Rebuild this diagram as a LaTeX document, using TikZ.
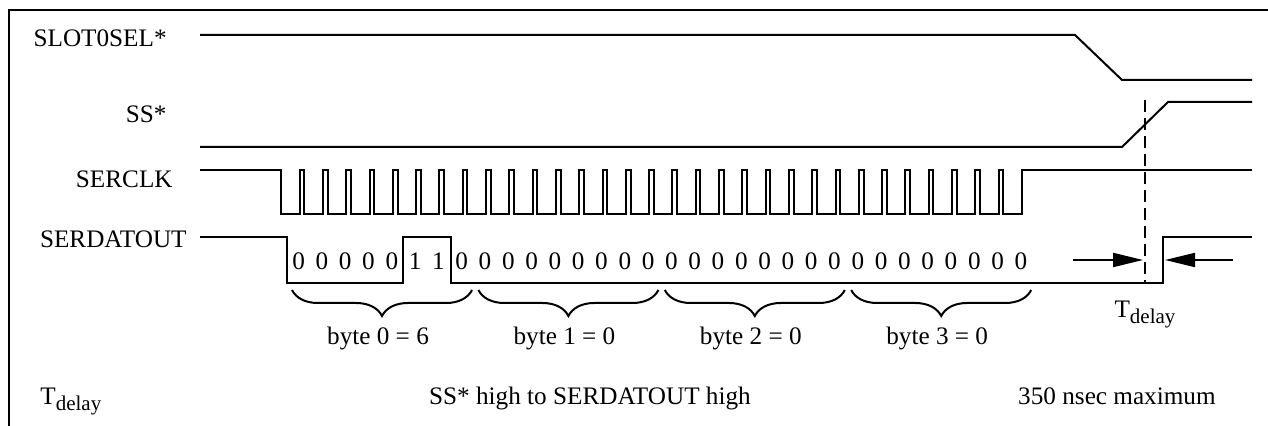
\documentclass[tikz,border=0pt]{standalone}
\usepackage{fontspec}
\setmainfont{Liberation Serif}
\usetikzlibrary{arrows.meta,decorations.pathreplacing}
\newcommand{\tdel}{T\raisebox{-0.45ex}{\fontsize{10.5}{12}\selectfont delay}}

\begin{document}
\begin{tikzpicture}[x=0.5pt, y=-0.5pt,
  every node/.style={font=\fontsize{12.6}{15}\selectfont, inner sep=0pt},
  sig/.style={line width=1pt},
  bytebrace/.style={decorate, decoration={brace, mirror, amplitude=13pt}, line width=1pt},
  delayarrow/.style={-{Triangle[length=15pt,width=7pt]}, line width=1pt}]
\useasboundingbox (0,0) rectangle (1268,426);

% Frame
\draw[line width=1.4pt] (9,440) -- (9,10) -- (1280,10);

% Signal names
\node[anchor=base east] (slotname) at (167,47) {SLOT0SEL*};
\node[anchor=base east] (ssname) at (167,123) {SS*};
\node[anchor=base east] (clkname) at (173,188) {SERCLK};
\node[anchor=base east] (dataname) at (187,248) {SERDATOUT};

% Waveforms
\draw[sig] (200,35) -- (1075,35) -- (1122,80) -- (1252,80);
\draw[sig] (200,147) -- (1122,147) -- (1168,102) -- (1252,102);
\draw[sig] (200,170) -- (281,170)
  \foreach \i in {1,...,31} { -- ++(0,44) -- ++(18.6,0) -- ++(0,-44) -- ++(4.7,0) }
  -- ++(0,44) -- ++(18.6,0) -- ++(0,-44) -- (1252,170);
\draw[sig] (200,237) -- (287,237) -- (287,283) -- (403,283) -- (403,237) -- (451,237)
  -- (451,283) -- (1163,283) -- (1163,237) -- (1252,237);

% Bit values
\foreach \b [count=\i from 0] in {0,0,0,0,0,1,1,0, 0,0,0,0,0,0,0,0, 0,0,0,0,0,0,0,0, 0,0,0,0,0,0,0,0}
  \node (bit\i) at ({298.6+23.3*\i},261) {\b};

% Bytes
\foreach \v [count=\k from 0] in {6,0,0,0} {
  \coordinate (bl\k) at ({292+186.4*\k},290);
  \coordinate (br\k) at ({472+186.4*\k},290);
  \draw[bytebrace] (bl\k) -- (br\k);
  \node (byte\k) at ({378+186.4*\k},338) {byte \k{} = \v};
}

% Delay marker
\coordinate (sstop) at (1145,100);
\coordinate (datalow) at (1145,283);
\draw[sig, dash pattern=on 6pt off 3pt] (sstop) -- (datalow);
\coordinate (arrowl) at (1073,260);
\coordinate (tipl) at (1143,260);
\coordinate (arrowr) at (1233,260);
\coordinate (tipr) at (1165,260);
\draw[delayarrow] (arrowl) -- (tipl);
\draw[delayarrow] (arrowr) -- (tipr);
\node[anchor=north] (tdmark) at (1145,301) {\tdel};

% Timing row
\node[anchor=base west] (tdname) at (40,405) {\tdel};
\node[anchor=base] (tddesc) at (590,405) {SS* high to SERDATOUT high};
\node[anchor=base east] (tdval) at (1216,405) {350 nsec maximum};
\end{tikzpicture}
\end{document}
